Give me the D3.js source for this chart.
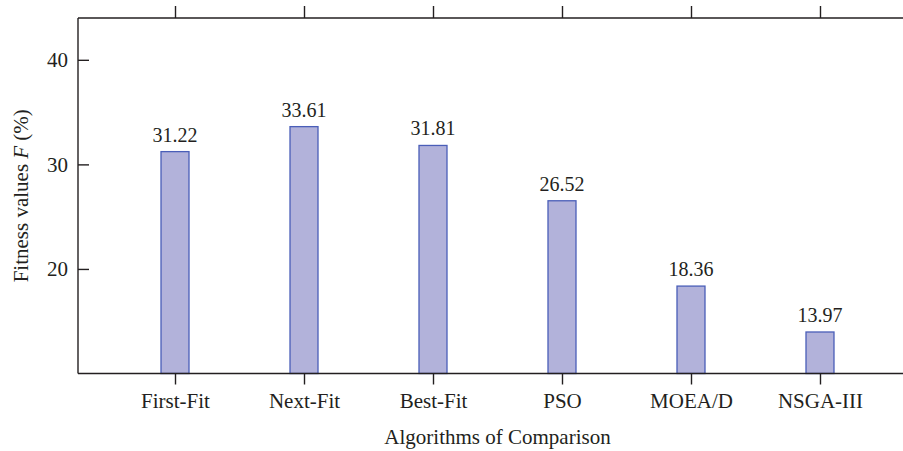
<!DOCTYPE html>
<html><head><meta charset="utf-8">
<script src="https://cdn.jsdelivr.net/npm/d3@7"></script>
<style>
html,body{margin:0;padding:0;background:#fff;}
svg{display:block;}
</style></head>
<body><svg id="c" width="903" height="451"></svg>
<script>
const categories = ["First-Fit","Next-Fit","Best-Fit","PSO","MOEA/D","NSGA-III"];
const values = [31.22, 33.61, 31.81, 26.52, 18.36, 13.97];
const yTicks = [20, 30, 40];
const xTitle = "Algorithms of Comparison";

const FONT = "'Liberation Serif', 'Times New Roman', 'DejaVu Serif', serif";
const FS = 21, FV = 20;
const svg = d3.select("#c");
const L = 78, T = 18, B = 373.5, R = 917;
const x = d3.scalePoint().domain(categories).range([L, R]).padding(0.752);
const y = d3.scaleLinear().domain([10, 44]).range([B, T]);
const bw = 28;
const axisColor = "#231f20";

// bars
svg.append("g").selectAll("rect").data(categories).join("rect")
  .attr("x", d => x(d) - bw/2)
  .attr("y", (d,i) => y(values[i]))
  .attr("width", bw)
  .attr("height", (d,i) => B - y(values[i]))
  .attr("fill", "#b2b2da")
  .attr("stroke", "#4a5eb8")
  .attr("stroke-width", 1.3);

// value labels
svg.append("g").selectAll("text").data(categories).join("text")
  .attr("x", d => x(d))
  .attr("y", (d,i) => y(values[i]) - 10)
  .attr("text-anchor", "middle")
  .style("font-family", FONT).style("font-size", FV + "px").style("fill", axisColor)
  .text((d,i) => values[i].toFixed(2));

// bottom axis
const gx = svg.append("g").attr("transform", `translate(0,${B})`)
  .call(d3.axisBottom(x).tickSize(11).tickPadding(9));
// top axis
const gt = svg.append("g").attr("transform", `translate(0,${T})`)
  .call(d3.axisTop(x).tickSize(12).tickFormat(""));
// left axis
const gy = svg.append("g").attr("transform", `translate(${L},0)`)
  .call(d3.axisLeft(y).tickValues(yTicks).tickSize(-11).tickPadding(10));

[gx, gt, gy].forEach(g => {
  g.attr("font-family", null).attr("font-size", null);
  g.select(".domain").attr("stroke", axisColor).attr("stroke-width", 1.4);
  g.selectAll(".tick line").attr("stroke", axisColor).attr("stroke-width", 1.4);
  g.selectAll(".tick text").style("font-family", FONT).style("font-size", FS + "px").style("fill", axisColor);
});
gx.select(".domain").attr("d", `M${L},0H${R}`);
gt.select(".domain").attr("d", `M${L},0H${R}`);
gy.select(".domain").attr("d", `M0,${B}V${T}`);

// axis titles
svg.append("text")
  .attr("x", 497.5).attr("y", 444)
  .attr("text-anchor", "middle")
  .style("font-family", FONT).style("font-size", FS + "px").style("fill", axisColor)
  .text(xTitle);

const yt = svg.append("text")
  .attr("transform", `translate(28,${(T+B)/2}) rotate(-90)`)
  .attr("text-anchor", "middle")
  .style("font-family", FONT).style("font-size", FS + "px").style("fill", axisColor);
yt.append("tspan").text("Fitness values ");
yt.append("tspan").style("font-style", "italic").text("F");
yt.append("tspan").text(" (%)");
</script></body></html>
